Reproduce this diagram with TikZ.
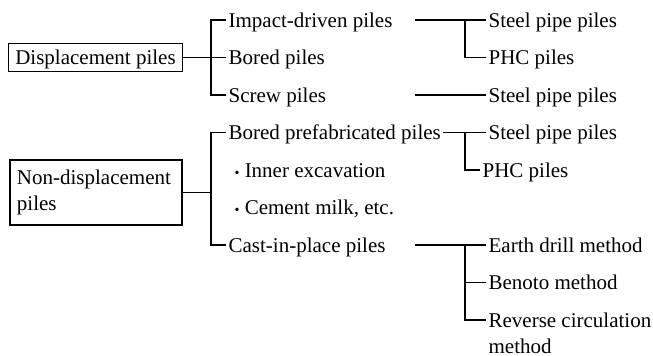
\documentclass[tikz,border=0pt]{standalone}
\usepackage{fontspec}
\setmainfont{Liberation Serif}
\begin{document}
\begin{tikzpicture}[x=0.5pt,y=-0.5pt,line width=0.6pt,
		font=\fontsize{10.5pt}{13pt}\selectfont,
		box/.style={draw,inner xsep=3.5pt,align=left},
		item/.style={anchor=west,inner xsep=1pt,inner ysep=0pt,text height=7pt,text depth=0pt}]
			\useasboundingbox (0,0) rectangle (653,355);
			\node (disp) at (95.5,57.5) [box,minimum height=14pt,text height=7pt,text depth=0pt] {Displacement piles};
			\node (nondisp) at (96,192.5) [box,text width=79pt,minimum height=32.5pt] {Non-displacement\\piles};
			\node (impact) at (226,20) [item] {Impact-driven piles};
			\node (bored) at (226,57.5) [item] {Bored piles};
			\node (screw) at (226,95) [item] {Screw piles};
			\node (prefab) at (226,132.5) [item] {Bored prefabricated piles};
			\node (inner) at (232,170) [item] {{\scriptsize\textbullet}\ Inner excavation};
			\node (cement) at (232,207.5) [item] {{\scriptsize\textbullet}\ Cement milk, etc.};
			\node (cast) at (226,245) [item] {Cast-in-place piles};
			\node (steela) at (486,20) [item] {Steel pipe piles};
			\node (phca) at (486,57.5) [item] {PHC piles};
			\node (steelb) at (486,95) [item] {Steel pipe piles};
			\node (steelc) at (486,132.5) [item] {Steel pipe piles};
			\node (phcb) at (480,170) [item] {PHC piles};
			\node (earth) at (486,245) [item] {Earth drill method};
			\node (benoto) at (486,282.5) [item] {Benoto method};
			\node (reverse) at (486,320) [item] {Reverse circulation};
			\node (method) at (486,346) [item] {method};
			\coordinate (ja) at (211,57.5);
			\coordinate (jb) at (211,192.5);
			\coordinate (ka) at (465,20);
			\coordinate (kb) at (465,132.5);
			\coordinate (kc) at (465,245);
			\coordinate (sa) at (415,20);
			\coordinate (sb) at (415,95);
			\coordinate (sc) at (415,245);
			\draw (disp) -- (bored);
			\draw (impact.west) -| (ja) |- (screw.west);
			\draw (nondisp.east) -- (jb);
			\draw (prefab.west) -| (jb) |- (cast.west);
			\draw (sa) -- (steela.west);
			\draw (phca.west) -| (ka);
			\draw (sb) -- (steelb.west);
			\draw (prefab.east) -- (steelc.west);
			\draw (phcb.west) -| (kb);
			\draw (sc) -- (earth.west);
			\draw (reverse.west) -| (kc);
			\draw (benoto.west) -- (benoto.west -| kc);
		\end{tikzpicture}
\end{document}
